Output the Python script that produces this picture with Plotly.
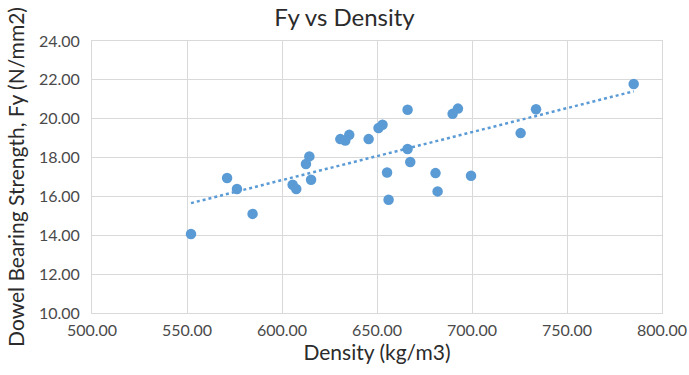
import numpy as np
import plotly.graph_objects as go

# Timber density vs dowel bearing strength samples
density = [552.1, 571.1, 576.3, 584.5, 605.6, 607.5, 612.6, 614.4, 615.3, 630.7,
           633.3, 635.4, 645.6, 650.8, 652.9, 655.3, 656.1, 666.1, 666.1, 667.5,
           680.8, 681.9, 689.8, 692.6, 699.5, 725.6, 733.7, 785.1]
fy = [14.07, 16.95, 16.38, 15.10, 16.60, 16.38, 17.67, 18.06, 16.86, 18.95,
      18.88, 19.17, 18.95, 19.52, 19.69, 17.23, 15.83, 20.46, 18.44, 17.77,
      17.20, 16.26, 20.25, 20.52, 17.06, 19.26, 20.49, 21.79]

x_ticks = [500, 550, 600, 650, 700, 750, 800]
y_ticks = [10, 12, 14, 16, 18, 20, 22, 24]

BLUE = "#5B9BD5"
TICK = "#4A4A4A"
DARK = "#2B2B2B"
GRID = "#D9D9D9"
FONT = "Lato, Carlito, Calibri, sans-serif"

# Linear trendline from least squares
slope, intercept = np.polyfit(density, fy, 1)
tx = [min(density), max(density)]
ty = [slope * v + intercept for v in tx]

fig = go.Figure()
fig.add_trace(go.Scatter(
    x=tx, y=ty, mode="lines",
    line=dict(color=BLUE, width=2.5, dash="dot"),
    hoverinfo="skip", showlegend=False,
))
fig.add_trace(go.Scatter(
    x=density, y=fy, mode="markers",
    marker=dict(color=BLUE, size=10.5, line=dict(width=0)),
    showlegend=False,
))

fig.update_layout(
    width=689, height=375,
    margin=dict(l=92, r=27, t=41, b=62),
    paper_bgcolor="white", plot_bgcolor="white",
    font=dict(family=FONT, color=TICK),
    title=dict(text="Fy vs Density", x=0.5, xanchor="center", y=0.952, yanchor="middle",
               font=dict(family=FONT, size=24, color=DARK)),
    xaxis=dict(
        range=[500, 800], tickvals=x_ticks,
        ticktext=[f"{v:.2f}" for v in x_ticks],
        tickfont=dict(size=16, color=TICK),
        showgrid=True, gridcolor=GRID, gridwidth=1,
        zeroline=False, showline=True, linecolor=GRID, linewidth=1, mirror=True,
        ticks="", ticklabelstandoff=3, automargin=False,
        title=dict(text="Density (kg/m3)", font=dict(size=21, color=DARK), standoff=4),
    ),
    yaxis=dict(
        range=[10, 24], tickvals=y_ticks,
        ticktext=[f"{v:.2f}" for v in y_ticks],
        tickfont=dict(size=16, color=TICK),
        showgrid=True, gridcolor=GRID, gridwidth=1,
        zeroline=False, showline=True, linecolor=GRID, linewidth=1, mirror=True,
        ticks="", ticklabelstandoff=8, automargin=False,
        title=dict(text="Dowel Bearing Strength, Fy (N/mm2)",
                   font=dict(size=21, color=DARK), standoff=8),
    ),
)

fig.write_html("out.html")
